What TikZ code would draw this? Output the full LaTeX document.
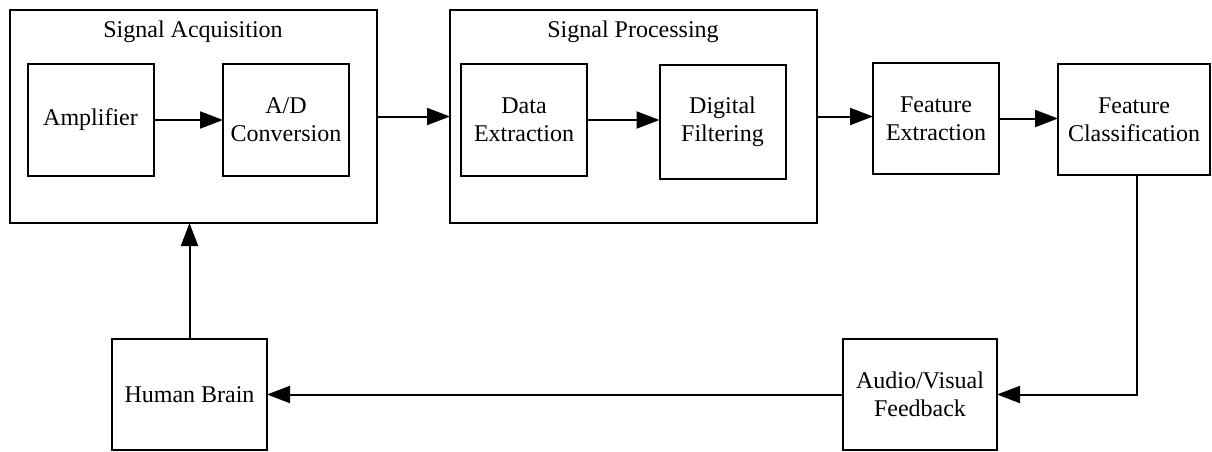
\documentclass[tikz,border=0pt]{standalone}
\usepackage{fontspec}
\setmainfont{Liberation Serif}
\usepackage{tikz}
\usetikzlibrary{arrows.meta, positioning, calc}

\begin{document}
\begin{tikzpicture}[
    x=0.5pt, y=-0.5pt,
    blk/.style={
        rectangle, draw=black, line width=1pt, fill=white, align=center,
        minimum width=63pt, minimum height=56pt, inner sep=0pt, outer sep=0pt,
        font=\fontsize{12}{14}\selectfont
    },
    group/.style={
        rectangle, draw=black, line width=1pt, minimum width=183.5pt,
        minimum height=106.5pt, inner sep=0pt, outer sep=0pt
    },
    gtitle/.style={font=\fontsize{12}{14}\selectfont, inner sep=0pt},
    arr/.style={-{Triangle[length=11.5pt, width=8.5pt]}, line width=1pt}
]
\useasboundingbox[fill=white] (0,0) rectangle (1212,451);

% Groups
\node[group] (sa) at (193.5,116.5) {};
\node[group] (sp) at (633.5,116.5) {};
\node[gtitle] (satitle) at (193,32) {Signal Acquisition};
\node[gtitle] (sptitle) at (633,32) {Signal Processing};

% Acquisition blocks
\node[blk] (amp) at (90.5,120) {Amplifier};
\node[blk] (adc) at (286,120) {A/D\\Conversion};

% Processing blocks
\node[blk] (dext) at (524,120) {Data\\Extraction};
\node[blk, minimum height=57pt] (dfilt) at (722.5,122) {Digital\\Filtering};

% Feature blocks
\node[blk, minimum height=55.5pt] (fext) at (936,118.5) {Feature\\Extraction};
\node[blk, minimum width=76pt, minimum height=55.5pt] (fclass) at (1134,119.5) {Feature\\Classification};

% Feedback loop
\node[blk, minimum width=77pt, minimum height=55.5pt] (avfb) at (920,394.5) {Audio/Visual\\Feedback};
\node[blk, minimum width=77.5pt, minimum height=55.5pt] (brain) at (189.5,394.5) {Human Brain};

% Arrows
\draw[arr] (amp.east) -- (amp.east -| adc.west);
\draw[arr] (sa.east) -- (sp.west);
\draw[arr] (dext.east) -- (dext.east -| dfilt.west);
\draw[arr] (sp.east) -- (sp.east -| fext.west);
\draw[arr] (fext.east) -- (fext.east -| fclass.west);
\draw[arr] ([xshift=1.5pt]fclass.south) |- (avfb.east);
\draw[arr] (avfb.west) -- (brain.east);
\draw[arr] (brain.north) -- (brain.north |- sa.south);

\end{tikzpicture}
\end{document}
